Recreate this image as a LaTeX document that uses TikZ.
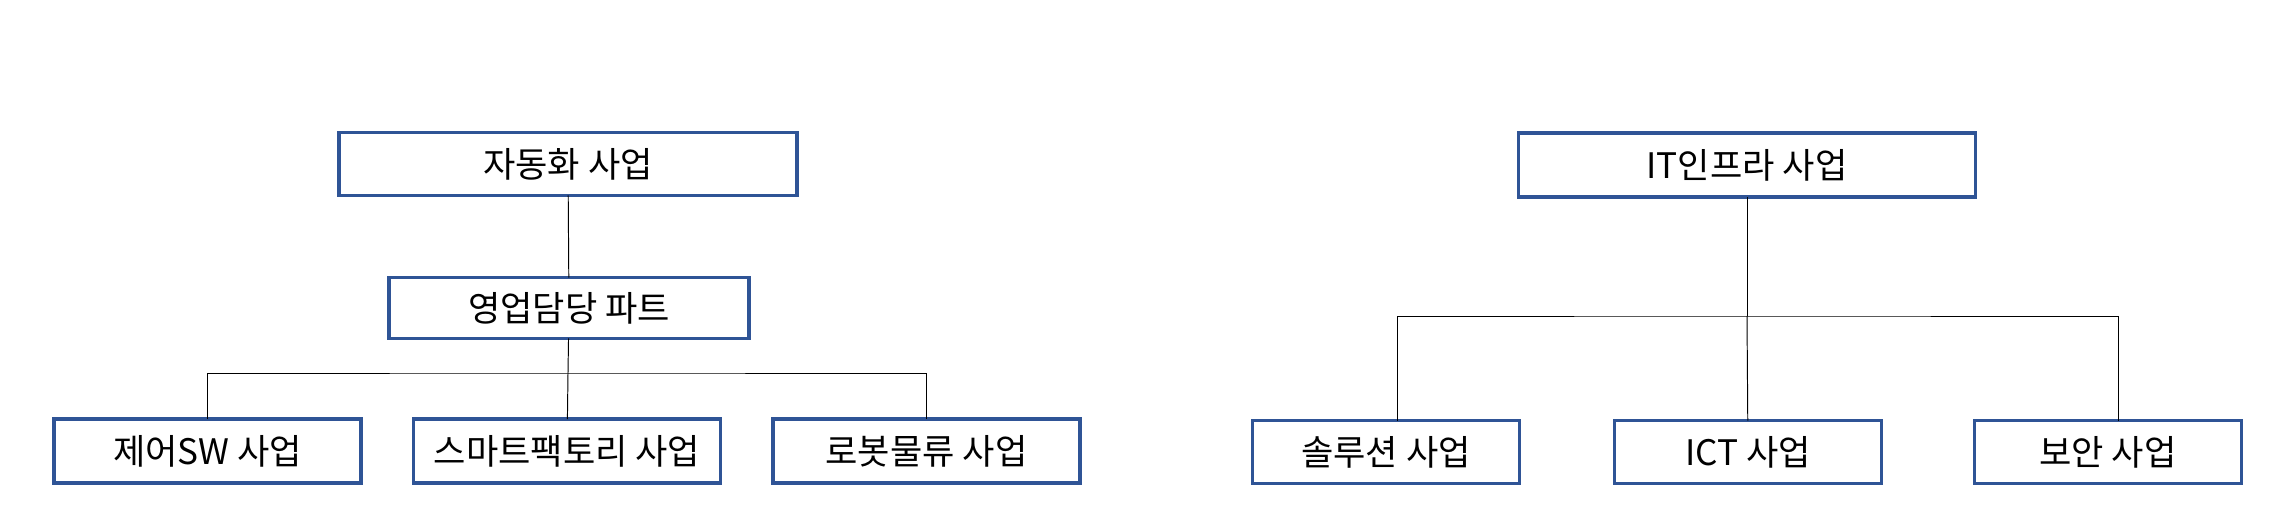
\documentclass[tikz,border=0pt]{standalone}
\usepackage{fontspec}
\setmainfont{Noto Sans CJK KR}
\usepackage{xcolor}
\usepackage{tikz}
\usetikzlibrary{positioning, calc}
\definecolor{orgblue}{HTML}{2F5496}

\begin{document}
\begin{tikzpicture}[
  x=0.02cm, y=-0.02cm,
  unit/.style={rectangle, draw=orgblue, line width=2pt, fill=white, align=center, inner sep=0pt, outer sep=0pt, font=\fontsize{20}{24}\selectfont},
  conn/.style={draw=black, line width=0.55pt},
]
\useasboundingbox (0,0) rectangle (2280,530);

% Automation side
\node[unit, minimum width=9.16cm, minimum height=1.26cm] (auto) at (568,164) {자동화 사업};
\node[unit, minimum width=7.2cm, minimum height=1.22cm] (sales) at (569,308) {영업담당 파트};
\node[unit, minimum width=6.14cm, minimum height=1.28cm] (smart) at (567,451) {스마트팩토리 사업};
\node[unit, minimum width=6.14cm, minimum height=1.28cm, left=1.05cm of smart] (ctrl) {제어SW 사업};
\node[unit, minimum width=6.14cm, minimum height=1.28cm, right=1.05cm of smart] (robot) {로봇물류 사업};
\coordinate (lbar) at (568,373);

% IT infra side
\node[unit, minimum width=9.14cm, minimum height=1.28cm] (infra) at (1747,165) {IT인프라 사업};
\node[unit, minimum width=5.34cm, minimum height=1.26cm] (ict) at (1748,452) {ICT 사업};
\node[unit, minimum width=5.34cm, minimum height=1.26cm, left=1.9cm of ict] (sol) {솔루션 사업};
\node[unit, minimum width=5.34cm, minimum height=1.26cm, right=1.86cm of ict] (sec) {보안 사업};
\coordinate (rbar) at (1747,316);

% Connectors
\draw[conn] (auto) -- (sales);
\draw[conn] (sales) -- (lbar);
\draw[conn] (ctrl) |- (lbar) -| (robot);
\draw[conn] (lbar) -- (smart);
\draw[conn] (infra) -- (rbar);
\draw[conn] ([xshift=0.22cm]sol.north) |- (rbar) -| ([xshift=0.22cm]sec.north);
\draw[conn] (rbar) -- (ict);

\end{tikzpicture}
\end{document}
